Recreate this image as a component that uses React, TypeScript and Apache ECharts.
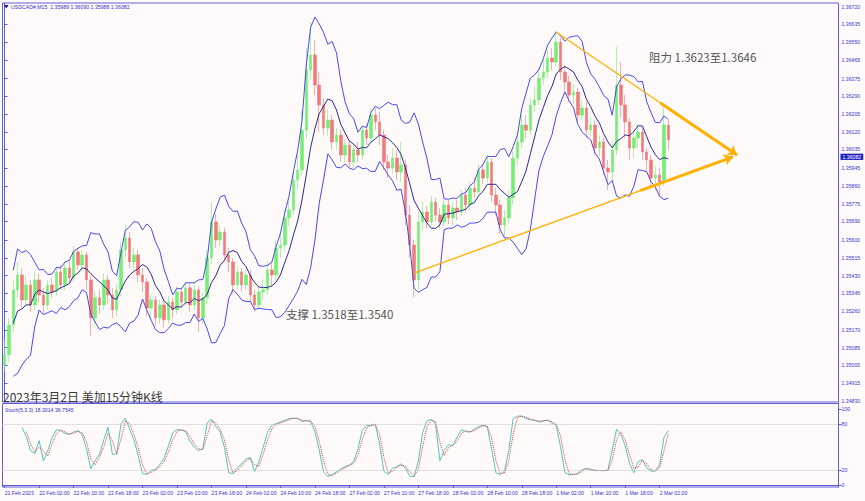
import React, { useEffect, useRef } from "react";
import * as echarts from "echarts";

const timeLabels = ["21 Feb 2023", "22 Feb 02:00", "22 Feb 10:00", "22 Feb 18:00", "23 Feb 02:00", "23 Feb 10:00", "23 Feb 18:00", "24 Feb 02:00", "24 Feb 10:00", "24 Feb 18:00", "27 Feb 02:00", "27 Feb 10:00", "27 Feb 18:00", "28 Feb 02:00", "28 Feb 10:00", "28 Feb 18:00", "1 Mar 02:00", "1 Mar 10:00", "1 Mar 18:00", "2 Mar 02:00"];
const priceTickLabels = ["1.36720", "1.36635", "1.36550", "1.36465", "1.36375", "1.36290", "1.36205", "1.36120", "1.36035", "1.35945", "1.35860", "1.35775", "1.35690", "1.35600", "1.35515", "1.35430", "1.35345", "1.35260", "1.35170", "1.35085", "1.35000", "1.34915", "1.34830"];
const stochTickValues = [0, 20, 80, 100];

const firstOpen = 1.35003;
const closes = [
  1.35051, 1.35194, 1.35362, 1.35434, 1.35314, 1.35386, 1.35290, 1.35410, 1.35338, 1.35290,
  1.35386, 1.35352, 1.35448, 1.35386, 1.35467, 1.35419, 1.35544, 1.35482, 1.35530, 1.35410,
  1.35228, 1.35324, 1.35290, 1.35410, 1.35338, 1.35266, 1.35362, 1.35554, 1.35611, 1.35496,
  1.35530, 1.35434, 1.35400, 1.35276, 1.35314, 1.35228, 1.35290, 1.35218, 1.35304, 1.35266,
  1.35352, 1.35304, 1.35372, 1.35290, 1.35362, 1.35228, 1.35324, 1.35515, 1.35688, 1.35601,
  1.35640, 1.35530, 1.35496, 1.35386, 1.35448, 1.35386, 1.35434, 1.35338, 1.35290, 1.35352,
  1.35362, 1.35458, 1.35434, 1.35563, 1.35577, 1.35707, 1.35745, 1.35889, 1.35937, 1.36128,
  1.36416, 1.36488, 1.36344, 1.36248, 1.36138, 1.36176, 1.36071, 1.36104, 1.36009, 1.36056,
  1.35975, 1.36033, 1.36009, 1.36128, 1.36090, 1.36200, 1.36167, 1.36104, 1.35975, 1.35946,
  1.35994, 1.35927, 1.35961, 1.35721, 1.35577, 1.35410, 1.35688, 1.35736, 1.35688, 1.35783,
  1.35721, 1.35688, 1.35769, 1.35707, 1.35755, 1.35736, 1.35817, 1.35769, 1.35850, 1.35831,
  1.35937, 1.35898, 1.35975, 1.35817, 1.35769, 1.35673, 1.35707, 1.35803, 1.35994, 1.36071,
  1.36152, 1.36128, 1.36248, 1.36272, 1.36377, 1.36406, 1.36473, 1.36454, 1.36550, 1.36406,
  1.36358, 1.36296, 1.36310, 1.36200, 1.36234, 1.36128, 1.36152, 1.36042, 1.36071, 1.35946,
  1.35927, 1.36033, 1.36344, 1.36248, 1.36167, 1.36042, 1.36090, 1.36119, 1.36023, 1.35985,
  1.35898, 1.35913, 1.35879, 1.36152, 1.36082
];
const highs = [
  1.35122, 1.35228, 1.35410, 1.35496, 1.35467, 1.35429, 1.35410, 1.35448, 1.35439, 1.35372,
  1.35410, 1.35419, 1.35477, 1.35482, 1.35496, 1.35506, 1.35573, 1.35563, 1.35554, 1.35544,
  1.35429, 1.35352, 1.35362, 1.35439, 1.35434, 1.35372, 1.35391, 1.35592, 1.35669, 1.35640,
  1.35563, 1.35554, 1.35467, 1.35419, 1.35343, 1.35333, 1.35314, 1.35314, 1.35333, 1.35324,
  1.35381, 1.35372, 1.35400, 1.35391, 1.35400, 1.35381, 1.35352, 1.35554, 1.35783, 1.35726,
  1.35669, 1.35659, 1.35563, 1.35515, 1.35477, 1.35467, 1.35458, 1.35458, 1.35362, 1.35381,
  1.35410, 1.35496, 1.35496, 1.35601, 1.35640, 1.35745, 1.35803, 1.35927, 1.36009, 1.36224,
  1.36521, 1.36646, 1.36559, 1.36406, 1.36282, 1.36224, 1.36200, 1.36138, 1.36128, 1.36080,
  1.36080, 1.36056, 1.36071, 1.36152, 1.36157, 1.36234, 1.36234, 1.36215, 1.36128, 1.36009,
  1.36042, 1.36033, 1.36071, 1.35985, 1.35769, 1.35601, 1.35736, 1.35783, 1.35764, 1.35812,
  1.35803, 1.35755, 1.35793, 1.35793, 1.35783, 1.35793, 1.35841, 1.35850, 1.35879, 1.35898,
  1.35965, 1.35965, 1.36009, 1.35994, 1.35850, 1.35793, 1.35745, 1.35841, 1.36033, 1.36119,
  1.36200, 1.36200, 1.36282, 1.36330, 1.36425, 1.36464, 1.36511, 1.36521, 1.36598, 1.36569,
  1.36440, 1.36387, 1.36349, 1.36330, 1.36272, 1.36262, 1.36186, 1.36176, 1.36104, 1.36090,
  1.35985, 1.36080, 1.36526, 1.36454, 1.36296, 1.36186, 1.36128, 1.36157, 1.36138, 1.36042,
  1.36009, 1.35956, 1.35946, 1.36238, 1.36176
];
const lows = [
  1.34969, 1.35017, 1.35161, 1.35324, 1.35276, 1.35285, 1.35257, 1.35266, 1.35304, 1.35247,
  1.35266, 1.35324, 1.35333, 1.35362, 1.35362, 1.35391, 1.35400, 1.35458, 1.35448, 1.35362,
  1.35142, 1.35190, 1.35247, 1.35266, 1.35295, 1.35228, 1.35237, 1.35333, 1.35515, 1.35467,
  1.35458, 1.35400, 1.35352, 1.35237, 1.35228, 1.35190, 1.35199, 1.35180, 1.35199, 1.35228,
  1.35247, 1.35276, 1.35285, 1.35257, 1.35266, 1.35161, 1.35199, 1.35295, 1.35486, 1.35563,
  1.35573, 1.35496, 1.35448, 1.35343, 1.35362, 1.35352, 1.35362, 1.35304, 1.35257, 1.35266,
  1.35314, 1.35338, 1.35381, 1.35410, 1.35515, 1.35554, 1.35669, 1.35726, 1.35841, 1.35908,
  1.36090, 1.36368, 1.36296, 1.36119, 1.36104, 1.36100, 1.36033, 1.36033, 1.35975, 1.35975,
  1.35946, 1.35946, 1.35975, 1.35985, 1.36056, 1.36071, 1.36128, 1.36056, 1.35937, 1.35898,
  1.35918, 1.35889, 1.35879, 1.35673, 1.35515, 1.35328, 1.35362, 1.35649, 1.35659, 1.35669,
  1.35688, 1.35659, 1.35669, 1.35678, 1.35669, 1.35697, 1.35716, 1.35736, 1.35745, 1.35803,
  1.35812, 1.35870, 1.35879, 1.35783, 1.35721, 1.35630, 1.35611, 1.35678, 1.35774, 1.35961,
  1.36042, 1.36090, 1.36104, 1.36215, 1.36248, 1.36344, 1.36377, 1.36416, 1.36435, 1.36368,
  1.36310, 1.36262, 1.36253, 1.36167, 1.36176, 1.36090, 1.36100, 1.36009, 1.36004, 1.35913,
  1.35841, 1.35889, 1.36009, 1.36186, 1.36090, 1.35985, 1.35994, 1.36042, 1.35985, 1.35927,
  1.35860, 1.35841, 1.35807, 1.35860, 1.36033
];

// trend-line annotations, in (bar index, price)
const upperTrend = [[127.95, 1.36598], [169.96, 1.36009]];
const upperTrendThick = [[152.1, 1.36259], [169.96, 1.36009]];
const lowerTrend = [[95.0, 1.35443], [169.0, 1.36]];
const lowerTrendThick = [[147.5, 1.35838], [169.0, 1.36]];

const SLOTS = 194;
const BB_PERIOD = 7;
const BB_DEV = 2;
const K_PERIOD = 4;
const SLOWING = 2;
const D_PERIOD = 2;

const AXIS_TEXT = "#3838c8";
const AXIS_LINE = "#5e5ed8";
const SMALL_FONT = "Liberation Sans";

function buildIndicators() {
  const n = closes.length;
  const opens = closes.map((c, i) => (i === 0 ? firstOpen : closes[i - 1]));
  const candles = closes.map((c, i) => [opens[i], c, lows[i], highs[i]]);
  const mid: (number | null)[] = [];
  const up: (number | null)[] = [];
  const dn: (number | null)[] = [];
  for (let i = 0; i < n; i++) {
    const s = Math.max(0, i - BB_PERIOD + 1);
    const w = closes.slice(s, i + 1);
    if (w.length < 3) { mid.push(null); up.push(null); dn.push(null); continue; }
    const m = w.reduce((a, b) => a + b, 0) / w.length;
    const sd = Math.sqrt(w.reduce((a, b) => a + (b - m) * (b - m), 0) / w.length);
    mid.push(m); up.push(m + BB_DEV * sd); dn.push(m - BB_DEV * sd);
  }
  const hh: number[] = [], ll: number[] = [];
  for (let i = 0; i < n; i++) {
    const s = Math.max(0, i - K_PERIOD + 1);
    hh.push(Math.max(...highs.slice(s, i + 1)));
    ll.push(Math.min(...lows.slice(s, i + 1)));
  }
  const k: (number | null)[] = [];
  for (let i = 0; i < n; i++) {
    if (i < K_PERIOD + SLOWING - 2) { k.push(null); continue; }
    let num = 0, den = 0;
    for (let j = i - SLOWING + 1; j <= i; j++) { num += closes[j] - ll[j]; den += hh[j] - ll[j]; }
    k.push(den === 0 ? 50 : (num / den) * 100);
  }
  const d: (number | null)[] = [];
  for (let i = 0; i < n; i++) {
    let sum = 0, ok = true;
    for (let j = i - D_PERIOD + 1; j <= i; j++) {
      if (j < 0 || k[j] === null) { ok = false; break; }
      sum += k[j] as number;
    }
    d.push(ok ? sum / D_PERIOD : null);
  }
  return { candles, mid, up, dn, k, d };
}

export default function App() {
  const ref = useRef<HTMLDivElement>(null);
  useEffect(() => {
    document.body.style.margin = "0";
    if (!ref.current) return;
    const chart = echarts.init(ref.current, null, { renderer: "svg" });
    const { candles, mid, up, dn, k, d } = buildIndicators();
    const cats = Array.from({ length: SLOTS }, (_, i) => String(i));
    const showIdx = (i: number) => i % 8 === 0 && i / 8 < timeLabels.length;
    const lastClose = closes[closes.length - 1];
    const orange = "#ffb000";

    const option: any = {
      animation: false,
      backgroundColor: "#fffafa",
      grid: [
        { left: 2.5, right: 26.5, top: 3, bottom: 99, show: true, borderColor: AXIS_LINE, borderWidth: 1, backgroundColor: "transparent" },
        { left: 2.5, right: 26.5, top: 403.5, bottom: 14, show: true, borderColor: AXIS_LINE, borderWidth: 1, backgroundColor: "transparent" },
      ],
      xAxis: [
        { type: "category", gridIndex: 0, data: cats, boundaryGap: true, axisLine: { show: false }, axisTick: { show: false }, axisLabel: { show: false }, splitLine: { show: false } },
        {
          type: "category", gridIndex: 1, data: cats, boundaryGap: true,
          axisLine: { show: true, lineStyle: { color: AXIS_LINE } },
          axisTick: { show: true, alignWithLabel: true, length: 3, interval: (i: number) => showIdx(i), lineStyle: { color: AXIS_LINE } },
          axisLabel: {
            show: true, interval: (i: number) => showIdx(i), align: "left", margin: 3,
            fontSize: 5.2, fontFamily: SMALL_FONT, color: AXIS_TEXT,
            formatter: (v: string) => { const i = Number(v); return showIdx(i) ? timeLabels[i / 8] : ""; },
          },
          splitLine: { show: false },
        },
        { type: "value", gridIndex: 0, min: -0.5, max: SLOTS - 0.5, show: false },
      ],
      yAxis: [
        {
          type: "value", gridIndex: 0, position: "right", min: 1.34825, max: 1.36737,
          axisLine: { show: true, lineStyle: { color: AXIS_LINE } },
          axisTick: { show: true, length: 3, customValues: priceTickLabels.map(Number), lineStyle: { color: AXIS_LINE } },
          axisLabel: {
            show: true, customValues: priceTickLabels.map(Number), margin: 3, fontSize: 5.2, fontFamily: SMALL_FONT, color: AXIS_TEXT,
            formatter: (v: number) => v.toFixed(5),
          },
          splitLine: { show: false },
        },
        {
          type: "value", gridIndex: 1, position: "right", min: -2.63, max: 107.24,
          axisLine: { show: true, lineStyle: { color: AXIS_LINE } },
          axisTick: { show: true, length: 3, customValues: stochTickValues, lineStyle: { color: AXIS_LINE } },
          axisLabel: { show: true, customValues: stochTickValues, margin: 3, fontSize: 5.2, fontFamily: SMALL_FONT, color: AXIS_TEXT, formatter: (v: number) => String(v) },
          splitLine: { show: false },
        },
      ],
      series: [
        {
          type: "candlestick", name: "USDCAD", xAxisIndex: 0, yAxisIndex: 0, data: candles, barWidth: 3,
          itemStyle: { color: "#74ee74", color0: "#f27a7a", borderColor: "#74ee74", borderColor0: "#f27a7a", borderWidth: 0.6 },
          markLine: {
            silent: true, symbol: "none", animation: false,
            lineStyle: { color: "rgba(0,0,0,0)", width: 0 },
            data: [{ yAxis: lastClose }],
            label: { show: true, position: "end", distance: 2, formatter: lastClose.toFixed(5), color: "#ffffff", backgroundColor: "#1f1fc0", fontSize: 5.2, fontFamily: SMALL_FONT, padding: [0.8, 2, 0.5, 2] },
          },
        },
        { type: "line", name: "BB upper", xAxisIndex: 0, yAxisIndex: 0, data: up, symbol: "none", lineStyle: { color: "#4848ee", width: 1 }, z: 3 },
        { type: "line", name: "BB lower", xAxisIndex: 0, yAxisIndex: 0, data: dn, symbol: "none", lineStyle: { color: "#4848ee", width: 1 }, z: 3 },
        { type: "line", name: "BB mid", xAxisIndex: 0, yAxisIndex: 0, data: mid, symbol: "none", lineStyle: { color: "#2a2a90", width: 1 }, z: 3 },
        {
          type: "line", name: "resistance", xAxisIndex: 2, yAxisIndex: 0, data: upperTrend, symbol: "none", lineStyle: { color: orange, width: 1.3 }, z: 4,
          markLine: { silent: true, symbol: ["none", "arrow"], symbolSize: 9, animation: false, label: { show: false }, lineStyle: { color: orange, width: 3, type: "solid" }, data: [[{ coord: upperTrendThick[0] }, { coord: upperTrendThick[1] }]] },
        },
        {
          type: "line", name: "support", xAxisIndex: 2, yAxisIndex: 0, data: lowerTrend, symbol: "none", lineStyle: { color: orange, width: 1.3 }, z: 4,
          markLine: { silent: true, symbol: ["none", "arrow"], symbolSize: 9, animation: false, label: { show: false }, lineStyle: { color: orange, width: 3, type: "solid" }, data: [[{ coord: lowerTrendThick[0] }, { coord: lowerTrendThick[1] }]] },
        },
        {
          type: "line", name: "Stoch main", xAxisIndex: 1, yAxisIndex: 1, data: k, symbol: "none", lineStyle: { color: "#4cc8c0", width: 1 },
          markLine: { silent: true, symbol: "none", animation: false, label: { show: false }, lineStyle: { color: "#c4c4c4", type: "dotted", width: 1 }, data: [{ yAxis: 20 }, { yAxis: 80 }] },
        },
        { type: "line", name: "Stoch signal", xAxisIndex: 1, yAxisIndex: 1, data: d, symbol: "none", lineStyle: { color: "#ee3c3c", width: 1, type: "dotted" } },
      ],
      graphic: [
        { type: "polygon", shape: { points: [[4, 5], [8.5, 5], [6.25, 8.5]] }, style: { fill: "#1a1aa8" }, z: 10 },
        { type: "text", x: 11, y: 7, z: 10, style: { text: "USDCAD#,M15  1.35989 1.36090 1.35988 1.36082", fill: "#3434c8", font: `5.2px "${SMALL_FONT}"`, textVerticalAlign: "middle", verticalAlign: "middle" } },
        { type: "text", x: 5, y: 409.5, z: 10, style: { text: "Stoch(5,3,3) 18.3014 36.7545", fill: "#3434c8", font: `5.2px "${SMALL_FONT}"`, textVerticalAlign: "middle", verticalAlign: "middle" } },
        { type: "text", x: 3, y: 396.5, z: 10, style: { text: "2023年3月2日 美加15分钟K线", fill: "#3a3a3a", font: '12px "Noto Sans CJK SC"', textVerticalAlign: "middle", verticalAlign: "middle" } },
        { type: "text", x: 286, y: 313.5, z: 10, style: { text: "支撑 1.3518至1.3540", fill: "#555555", font: '11.5px "Noto Sans CJK SC"', textVerticalAlign: "middle", verticalAlign: "middle" } },
        { type: "text", x: 649, y: 57, z: 10, style: { text: "阻力 1.3623至1.3646", fill: "#555555", font: '11.5px "Noto Sans CJK SC"', textVerticalAlign: "middle", verticalAlign: "middle" } },
      ],
    };
    chart.setOption(option);
    return () => chart.dispose();
  }, []);
  return <div ref={ref} style={{ width: 865, height: 501, background: "#fffafa" }} />;
}
